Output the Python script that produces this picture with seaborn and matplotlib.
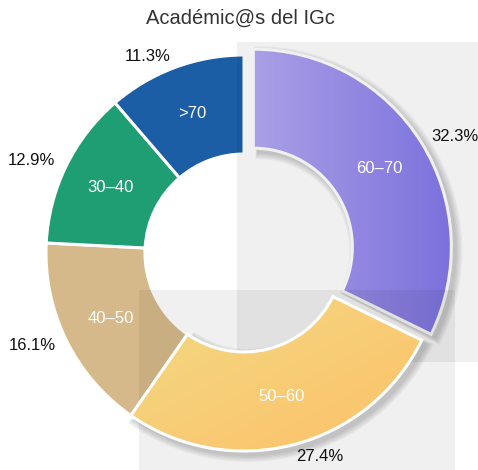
import numpy as np
import matplotlib
matplotlib.use("Agg")
import matplotlib.pyplot as plt
import seaborn as sns
from matplotlib.patches import Wedge, Rectangle
from matplotlib.colors import LinearSegmentedColormap

# data: academics by age group (counts)
age_groups = ["60–70", "50–60", "40–50", "30–40", ">70"]
counts = [20, 17, 10, 8, 7]
colors = ["#9d94ee", "#ffd67c", "#d6b98a", "#1f9e74", "#1b5ea6"]
explode = [11, 0, 0, 0, 0]

TITLE = "Académic@s del IGc"

sns.set_theme(style="white")
plt.rcParams["font.family"] = ["Liberation Sans", "DejaVu Sans"]

W, H = 478, 470
CX, CY, R = 244, 217, 198

fig = plt.figure(figsize=(W / 100, H / 100), dpi=100)
ax = fig.add_axes([0, 0, 1, 1])

total = sum(counts)
pct_labels = [f"{100 * c / total:.1f}%" for c in counts]
names = iter(age_groups)

wedges, texts, autotexts = ax.pie(
    counts, labels=pct_labels, colors=colors, explode=explode,
    startangle=90, counterclock=False, radius=R, center=(CX, CY),
    labeldistance=1.06, autopct=lambda p: next(names), pctdistance=0.75,
    wedgeprops=dict(width=0.5 * R, edgecolor="white", linewidth=2.2),
)


def add_shadow(w, z):
    # soft drop shadow behind a slice
    x0, y0 = w.center
    for k in range(1, 6):
        d = 1.4 * k
        sh = Wedge((x0 + 4, y0 - 4), w.r + d, w.theta1 - d * 0.15, w.theta2 + d * 0.15,
                   width=w.width + 2 * d, facecolor="black", edgecolor="none",
                   alpha=0.04, zorder=z)
        ax.add_patch(sh)


def add_gradient(w, c0, c1, direction, z):
    bb = w.get_path().get_extents(w.get_patch_transform())
    n = 256
    xx, yy = np.meshgrid(np.linspace(0, 1, n), np.linspace(0, 1, n))
    if direction == "h":
        g = xx
    else:
        g = (xx + (1 - yy)) / 2
    cmap = LinearSegmentedColormap.from_list("g", [c0, c1])
    im = ax.imshow(g, cmap=cmap, extent=[bb.x0, bb.x1, bb.y0, bb.y1],
                   origin="lower", zorder=z, interpolation="bilinear")
    im.set_clip_path(w)
    w.set_facecolor("none")
    w.set_zorder(z + 0.1)


add_shadow(wedges[0], 0.5)
add_shadow(wedges[1], 3.2)
add_gradient(wedges[0], "#b5aaf5", "#8479ea", "h", 1.5)
add_gradient(wedges[1], "#f2da84", "#fdc068", "d", 3.5)
for w in wedges[2:]:
    w.set_zorder(2)

# faint grey panels over the chart
ax.add_patch(Rectangle((237, H - 362), W - 237, 320, facecolor="black",
                       alpha=0.06, edgecolor="none", zorder=3))
ax.add_patch(Rectangle((139, 0), 455 - 139, H - 290, facecolor="black",
                       alpha=0.06, edgecolor="none", zorder=3))

for t in texts:
    x, y = t.get_position()
    t.set_ha("left" if x > CX else "right")
    t.set_color("#111111")
    t.set_fontsize(12)
    t.set_zorder(5)
for t in autotexts:
    t.set_color("white")
    t.set_fontsize(12)
    t.set_zorder(5)

fig.text(0.502, 1 - 18 / H, TITLE, ha="center", va="center",
         fontsize=14.5, color="#333333")

ax.set_xlim(0, W)
ax.set_ylim(0, H)
ax.set_aspect("equal")
ax.axis("off")

fig.savefig("out.png", dpi=100)
